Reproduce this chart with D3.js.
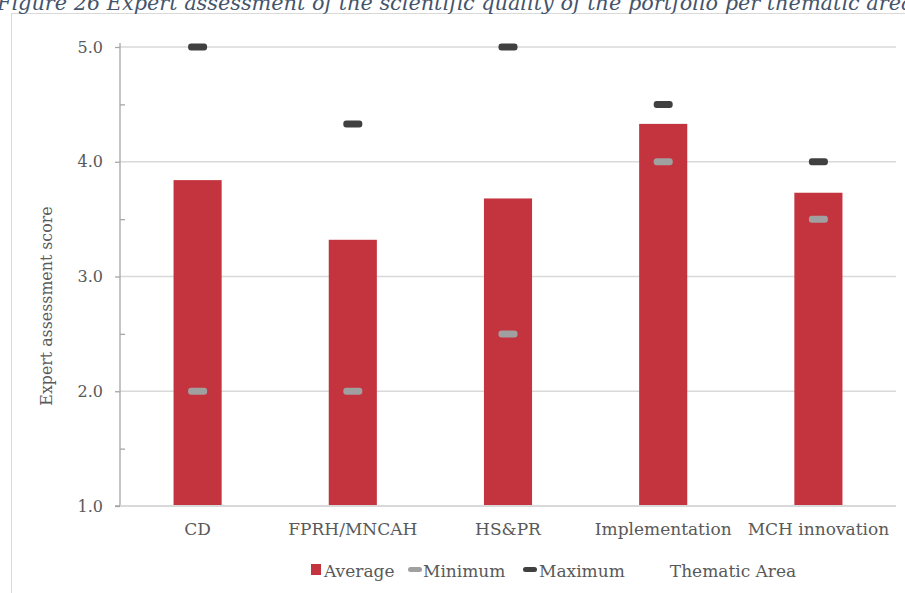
<!DOCTYPE html>
<html>
<head>
<meta charset="utf-8">
<script src="https://cdn.jsdelivr.net/npm/d3@7"></script>
<style>
  body { margin: 0; background: #fff; }
  svg text { font-family: "DejaVu Serif", serif; fill: #595959; }
</style>
</head>
<body>
<div id="chart"></div>
<script>
// thematic areas and scores
var categories = ["CD", "FPRH/MNCAH", "HS&PR", "Implementation", "MCH innovation"];
var averages = [3.84, 3.32, 3.68, 4.33, 3.73];
var minimums = [2.0, 2.0, 2.5, 4.0, 3.5];
var maximums = [5.0, 4.33, 5.0, 4.5, 4.0];
var yTicks = [1, 2, 3, 4, 5];
var legendLabels = ["Average", "Minimum", "Maximum"];

var W = 905, H = 593;
var margin = { top: 47, left: 120, right: 8, bottom: 87 };
var width = W - margin.left - margin.right,
    height = H - margin.top - margin.bottom;

var svg = d3.select("#chart")
    .append("svg")
    .attr("width", W)
    .attr("height", H);

// frame around chart area
svg.append("rect")
    .attr("x", 11.5).attr("y", 13.5)
    .attr("width", W).attr("height", H)
    .attr("fill", "none")
    .attr("stroke", "#d9d9d9");

// title (runs past the right edge, as in the report)
svg.append("text")
    .attr("x", -3).attr("y", 10)
    .attr("font-style", "italic")
    .attr("font-size", 20.8)
    .style("font-family", "'DejaVu Serif', serif")
    .style("fill", "#44546a")
    .text("Figure 26 Expert assessment of the scientific quality of the portfolio per thematic area");

var g = svg.append("g")
    .attr("transform", "translate(" + margin.left + "," + margin.top + ")");

var x = d3.scaleBand()
    .domain(categories)
    .range([0, width - 1])
    .paddingInner(0.69)
    .paddingOuter(0.345);

var y = d3.scaleLinear()
    .domain([1, 5])
    .range([459, 0]);

// gridlines
g.selectAll(".grid")
    .data(yTicks.slice(1))
    .enter().append("line")
    .attr("x1", 0).attr("x2", width - 1)
    .attr("y1", d => y(d)).attr("y2", d => y(d))
    .attr("stroke", "#d9d9d9")
    .attr("stroke-width", 1.3);

// y axis
var yAxis = d3.axisLeft(y)
    .tickValues(d3.range(1, 5.01, 0.5))
    .tickSize(5)
    .tickFormat(d => d % 1 === 0 ? d3.format(".1f")(d) : "");
var ya = g.append("g").call(yAxis);
ya.select(".domain").attr("stroke", "#a6a6a6").attr("stroke-width", 1.3)
    .attr("d", "M-5," + y(1) + "H0V" + (y(5) - 4));
ya.selectAll(".tick line").attr("stroke", "#a6a6a6").attr("stroke-width", 1.3);
ya.selectAll(".tick line").attr("x2", d => d % 1 === 0 ? -5 : 5);
ya.selectAll(".tick text").attr("x", -17).attr("font-size", 16)
    .style("font-family", "'DejaVu Serif', serif").style("fill", "#595959");

// x axis line
g.append("line")
    .attr("x1", 0).attr("x2", width - 1)
    .attr("y1", y(1)).attr("y2", y(1))
    .attr("stroke", "#d9d9d9").attr("stroke-width", 2);

// bars
g.selectAll(".bar")
    .data(averages)
    .enter().append("rect")
    .attr("class", "bar")
    .attr("x", (d, i) => x(categories[i]))
    .attr("width", x.bandwidth())
    .attr("y", d => y(d))
    .attr("height", d => y(1) - y(d) - 1)
    .attr("fill", "#c4343f");

function markers(data, color) {
    g.selectAll(null)
        .data(data)
        .enter().append("rect")
        .attr("x", (d, i) => x(categories[i]) + x.bandwidth() / 2 - 9.5)
        .attr("y", d => y(d) - 3.5)
        .attr("width", 19).attr("height", 7)
        .attr("rx", 3)
        .attr("fill", color);
}
markers(minimums, "#a0a0a0");
markers(maximums, "#404040");

// category labels
g.selectAll(".cat")
    .data(categories)
    .enter().append("text")
    .attr("x", d => x(d) + x.bandwidth() / 2)
    .attr("y", y(1) + 29)
    .attr("text-anchor", "middle")
    .attr("font-size", 17)
    .text(d => d);

// y axis title
svg.append("text")
    .attr("transform", "translate(52,306) rotate(-90)")
    .attr("text-anchor", "middle")
    .attr("font-size", 15.8)
    .text("Expert assessment score");

// legend
var lg = svg.append("g").attr("transform", "translate(0,570)");
lg.append("rect").attr("x", 311).attr("y", -6).attr("width", 10).attr("height", 11).attr("fill", "#c4343f");
lg.append("text").attr("x", 324).attr("y", 7).attr("font-size", 17).text(legendLabels[0]);
lg.append("rect").attr("x", 408).attr("y", -3).attr("width", 14).attr("height", 5).attr("rx", 2.5).attr("fill", "#a0a0a0");
lg.append("text").attr("x", 423).attr("y", 7).attr("font-size", 17).text(legendLabels[1]);
lg.append("rect").attr("x", 523).attr("y", -3).attr("width", 14).attr("height", 5).attr("rx", 2.5).attr("fill", "#404040");
lg.append("text").attr("x", 539).attr("y", 7).attr("font-size", 17).text(legendLabels[2]);
lg.append("text").attr("x", 733).attr("y", 7).attr("text-anchor", "middle").attr("font-size", 17).text("Thematic Area");
</script>
</body>
</html>
